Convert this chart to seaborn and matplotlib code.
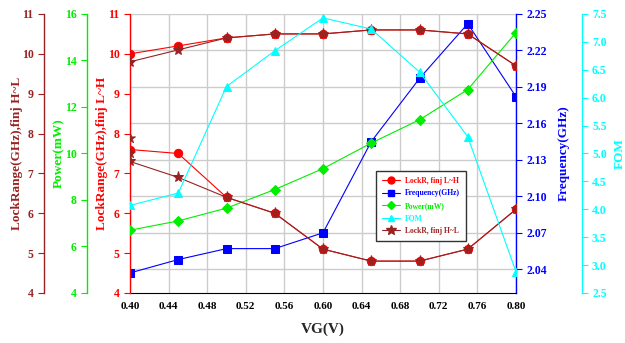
import numpy as np
import pandas as pd
import matplotlib
matplotlib.use('Agg')
import matplotlib.pyplot as plt
import seaborn as sns
from matplotlib.lines import Line2D
from matplotlib.ticker import FormatStrFormatter

# datos
vg = [0.40, 0.45, 0.50, 0.55, 0.60, 0.65, 0.70, 0.75, 0.80]
lock_lh_high = [10.0, 10.2, 10.4, 10.5, 10.5, 10.6, 10.6, 10.5, 9.7]
lock_lh_low = [7.6, 7.5, 6.4, 6.0, 5.1, 4.8, 4.8, 5.1, 6.1]
lock_hl_high = [9.8, 10.1, 10.4, 10.5, 10.5, 10.6, 10.6, 10.5, 9.7]
lock_hl_low = [7.3, 6.9, 6.4, 6.0, 5.1, 4.8, 4.8, 5.1, 6.1]
lock_hl_extra_x = [0.40, 0.40]
lock_hl_extra = [7.9, 7.5]
frequency = [2.037, 2.048, 2.057, 2.057, 2.070, 2.145, 2.197, 2.242, 2.182]
power = [6.7, 7.1, 7.65, 8.45, 9.35, 10.45, 11.45, 12.75, 15.2]
fom = [4.07, 4.29, 6.2, 6.84, 7.43, 7.23, 6.46, 5.3, 2.88]

legend_labels = ['LockR, finj L~H', 'Frequency(GHz)', 'Power(mW)', 'FOM', 'LockR, finj H~L']

RED = '#FF0000'
BLUE = '#0000FF'
GREEN = '#00EE00'
CYAN = '#00FFFF'
DRED = '#992222'

sns.set_style('white')
plt.rcParams['font.family'] = ['Liberation Serif', 'DejaVu Serif']
plt.rcParams['font.weight'] = 'bold'
plt.rcParams['axes.labelweight'] = 'bold'

fig = plt.figure(figsize=(6.25, 3.43), dpi=100)
ax_f = fig.add_axes([0.208, 0.1458, 0.6176, 0.8134])
ax_r = ax_f.twinx()
ax_p = ax_f.twinx()
ax_d = ax_f.twinx()
ax_c = ax_f.twinx()

# Frecuencia (eje base, con la rejilla)
sns.lineplot(x=vg, y=frequency, ax=ax_f, color=BLUE, marker='s', markersize=6,
             markeredgecolor=BLUE, lw=0.8)
ax_f.set_ylim(2.0205, 2.25)
ax_f.set_yticks([2.04, 2.07, 2.10, 2.13, 2.16, 2.19, 2.22, 2.25])
ax_f.yaxis.set_major_formatter(FormatStrFormatter('%.2f'))
ax_f.yaxis.tick_right()
ax_f.yaxis.set_label_position('right')
ax_f.set_ylabel('Frequency(GHz)', color=BLUE, fontsize=9.5)
ax_f.yaxis.set_label_coords(1.109, 0.5)
ax_f.grid(True, color='#cccccc', lw=1)
ax_f.set_axisbelow(True)

# LockRange L~H
sns.lineplot(x=vg, y=lock_lh_high, ax=ax_r, color=RED, marker='o', markersize=6,
             markeredgecolor=RED, lw=0.8)
sns.lineplot(x=vg, y=lock_lh_low, ax=ax_r, color=RED, marker='o', markersize=6,
             markeredgecolor=RED, lw=0.8)
ax_r.set_ylim(4, 11)
ax_r.set_yticks(range(4, 12))
ax_r.yaxis.tick_left()
ax_r.yaxis.set_label_position('left')
ax_r.set_ylabel('LockRange(GHz),finj L~H', color=RED, fontsize=9.5)
ax_r.yaxis.set_label_coords(-0.057, 0.5)

# Potencia
sns.lineplot(x=vg, y=power, ax=ax_p, color=GREEN, marker='D', markersize=5,
             markeredgecolor=GREEN, lw=0.8)
ax_p.set_ylim(4, 16)
ax_p.set_yticks(range(4, 17, 2))
ax_p.yaxis.tick_left()
ax_p.yaxis.set_label_position('left')
ax_p.spines['left'].set_position(('axes', -0.111))
ax_p.set_ylabel('Power(mW)', color=GREEN, fontsize=9.5)
ax_p.yaxis.set_label_coords(-0.168, 0.5)

# LockRange H~L
sns.lineplot(x=vg, y=lock_hl_high, ax=ax_d, color=DRED, marker='*', markersize=8,
             markeredgecolor=DRED, lw=0.8)
sns.lineplot(x=vg, y=lock_hl_low, ax=ax_d, color=DRED, marker='*', markersize=8,
             markeredgecolor=DRED, lw=0.8)
sns.scatterplot(x=lock_hl_extra_x, y=lock_hl_extra, ax=ax_d, color=DRED, marker='*',
                s=60, edgecolor=DRED, linewidth=0.5)
ax_d.set_ylim(4, 11)
ax_d.set_yticks(range(4, 12))
ax_d.yaxis.tick_left()
ax_d.yaxis.set_label_position('left')
ax_d.spines['left'].set_position(('axes', -0.223))
ax_d.set_ylabel('LockRange(GHz),finj H~L', color=DRED, fontsize=9.5)
ax_d.yaxis.set_label_coords(-0.277, 0.5)

# FOM
sns.lineplot(x=vg, y=fom, ax=ax_c, color=CYAN, marker='^', markersize=6,
             markeredgecolor=CYAN, lw=0.8)
ax_c.set_ylim(2.5, 7.5)
ax_c.set_yticks(np.arange(2.5, 7.6, 0.5))
ax_c.yaxis.set_major_formatter(FormatStrFormatter('%.1f'))
ax_c.spines['right'].set_position(('axes', 1.170))
ax_c.set_ylabel('FOM', color=CYAN, fontsize=9.5)
ax_c.yaxis.set_label_coords(1.252, 0.5)

# ejes y espinas
axes_info = [(ax_f, 'right', BLUE), (ax_r, 'left', RED), (ax_p, 'left', GREEN),
             (ax_d, 'left', DRED), (ax_c, 'right', CYAN)]
for a, side, col in axes_info:
    for s in ['left', 'right', 'top', 'bottom']:
        a.spines[s].set_visible(s == side)
    a.spines[side].set_color(col)
    a.spines[side].set_linewidth(1)
    a.tick_params(axis='y', colors=col, direction='out', length=4, labelsize=8.5)
    a.set_xlim(0.40, 0.80)
ax_f.spines['bottom'].set_visible(True)
ax_f.spines['bottom'].set_color('black')

ax_f.set_xticks(np.arange(0.40, 0.801, 0.04))
ax_f.xaxis.set_major_formatter(FormatStrFormatter('%.2f'))
ax_f.tick_params(axis='x', colors='black', direction='out', length=3, labelsize=8)
ax_f.set_xlabel('VG(V)', fontsize=11, labelpad=8)

# leyenda
handles = [
    Line2D([], [], color=RED, marker='o', markersize=5, lw=0.8),
    Line2D([], [], color=BLUE, marker='s', markersize=5, lw=0.8),
    Line2D([], [], color=GREEN, marker='D', markersize=4, lw=0.8),
    Line2D([], [], color=CYAN, marker='^', markersize=5, lw=0.8),
    Line2D([], [], color=DRED, marker='*', markersize=7, lw=0.8),
]
leg = ax_c.legend(handles, legend_labels, loc='upper left', bbox_to_anchor=(0.627, 0.452),
                  fontsize=5.5, frameon=True, fancybox=False, framealpha=1,
                  edgecolor='#333333', handlelength=2.4, handletextpad=0.6,
                  borderpad=0.8, labelspacing=0.6)
leg.get_frame().set_linewidth(1)
for t, c in zip(leg.get_texts(), [RED, BLUE, GREEN, CYAN, DRED]):
    t.set_color(c)

fig.savefig('out.png', dpi=100)
